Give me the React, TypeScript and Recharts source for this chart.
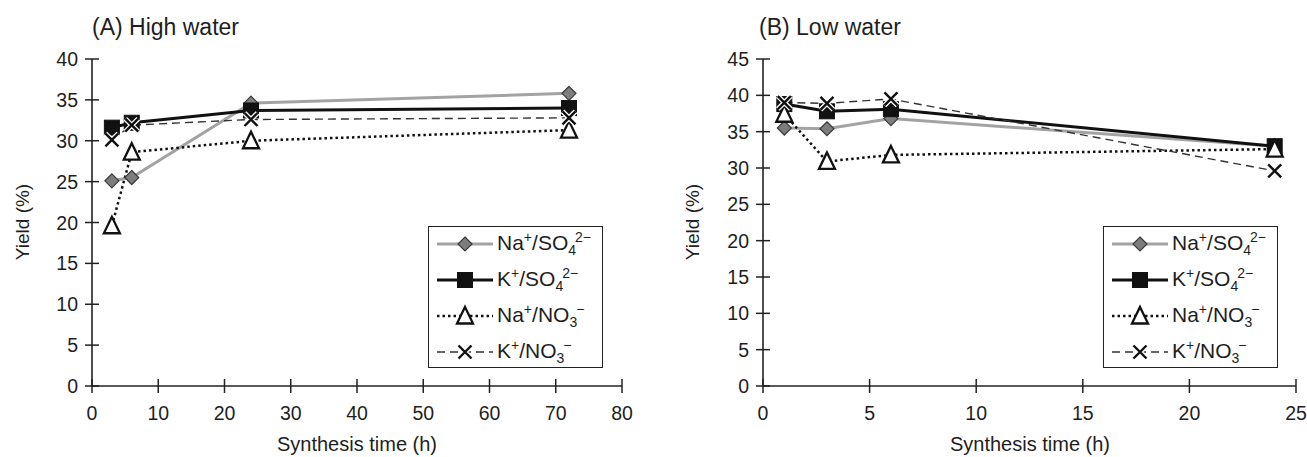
import React from 'react';
import { LineChart, Line, XAxis, YAxis } from 'recharts';

// ---- data ----
const hoursA = [3, 6, 24, 72];
const naSO4A = [25.1, 25.5, 34.6, 35.8];
const kSO4A = [31.6, 32.2, 33.7, 34.0];
const naNO3A = [19.6, 28.6, 30.0, 31.3];
const kNO3A = [30.1, 31.9, 32.6, 32.8];

const hoursB = [1, 3, 6, 24];
const naSO4B = [35.5, 35.4, 36.8, 33.0];
const kSO4B = [38.8, 37.8, 38.1, 33.0];
const naNO3B = [37.4, 30.9, 31.8, 32.6];
const kNO3B = [39.0, 38.9, 39.5, 29.6];

const xTicksA = [0, 10, 20, 30, 40, 50, 60, 70, 80];
const yTicksA = [0, 5, 10, 15, 20, 25, 30, 35, 40];
const xTicksB = [0, 5, 10, 15, 20, 25];
const yTicksB = [0, 5, 10, 15, 20, 25, 30, 35, 40, 45];

const titleA = '(A) High water';
const titleB = '(B) Low water';
const xLabel = 'Synthesis time (h)';
const yLabel = 'Yield (%)';

const buildRows = (h: number[], a: number[], b: number[], c: number[], d: number[]) =>
  h.map((x, i) => ({ h: x, naSO4: a[i], kSO4: b[i], naNO3: c[i], kNO3: d[i] }));

const dataA = buildRows(hoursA, naSO4A, kSO4A, naNO3A, kNO3A);
const dataB = buildRows(hoursB, naSO4B, kSO4B, naNO3B, kNO3B);

// ---- styles ----
const FONT = '"Liberation Sans", Arial, sans-serif';
const AX = '#222';
const TXT = '#1e1e1e';

type SeriesStyle = { key: string; stroke: string; width: number; dash?: string; marker: string };
const SERIES: SeriesStyle[] = [
  { key: 'naSO4', stroke: '#a3a3a3', width: 3, marker: 'diamond' },
  { key: 'kSO4', stroke: '#111', width: 3, marker: 'square' },
  { key: 'naNO3', stroke: '#111', width: 2.5, dash: '2.5 3', marker: 'triangle' },
  { key: 'kNO3', stroke: '#333', width: 1.4, dash: '8 5', marker: 'cross' },
];

function Marker({ kind, cx, cy }: { kind: string; cx: number; cy: number }) {
  if (kind === 'diamond') {
    const r = 7;
    return (
      <path
        d={`M${cx},${cy - r}L${cx + r},${cy}L${cx},${cy + r}L${cx - r},${cy}Z`}
        fill="#7d7d7d"
        stroke="#3a3a3a"
        strokeWidth={1.2}
      />
    );
  }
  if (kind === 'square') {
    const s = 7.5;
    return <rect x={cx - s} y={cy - s} width={2 * s} height={2 * s} fill="#111" stroke="#111" strokeWidth={1} />;
  }
  if (kind === 'triangle') {
    const r = 8;
    return (
      <path
        d={`M${cx},${cy - r - 1}L${cx + r},${cy + r - 0.5}L${cx - r},${cy + r - 0.5}Z`}
        fill="#fff"
        stroke="#111"
        strokeWidth={2.3}
        strokeLinejoin="miter"
      />
    );
  }
  const r = 6.5;
  const d = `M${cx - r},${cy - r}L${cx + r},${cy + r}M${cx + r},${cy - r}L${cx - r},${cy + r}`;
  return (
    <g>
      <path d={d} stroke="#fff" strokeWidth={5} />
      <path d={d} stroke="#111" strokeWidth={2.4} />
    </g>
  );
}

const makeDot = (kind: string) => (props: any) => {
  const { cx, cy, index } = props;
  if (cx == null || cy == null) return <g key={index} />;
  return (
    <g key={`${kind}-${index}`}>
      <Marker kind={kind} cx={cx} cy={cy} />
    </g>
  );
};

const YTick = (props: any) => {
  const { x, y, payload } = props;
  return (
    <g>
      <line x1={x - 7} x2={x + 7} y1={y} y2={y} stroke={AX} strokeWidth={1.5} />
      <text x={x - 14} y={y} dy="0.36em" textAnchor="end" fontSize={19.5} fontFamily={FONT} fill={TXT}>
        {payload.value}
      </text>
    </g>
  );
};

const XTick = (props: any) => {
  const { x, y, payload } = props;
  return (
    <g>
      <line x1={x} x2={x} y1={y - 7} y2={y + 7} stroke={AX} strokeWidth={1.5} />
      <text x={x} y={y + 34} textAnchor="middle" fontSize={19.5} fontFamily={FONT} fill={TXT}>
        {payload.value}
      </text>
    </g>
  );
};

function Panel({
  data,
  xTicks,
  yTicks,
  width,
  yAxisWidth,
  right,
}: {
  data: any[];
  xTicks: number[];
  yTicks: number[];
  width: number;
  yAxisWidth: number;
  right: number;
}) {
  const xDom: [number, number] = [xTicks[0], xTicks[xTicks.length - 1]];
  const yDom: [number, number] = [yTicks[0], yTicks[yTicks.length - 1]];
  return (
    <LineChart width={width} height={457} data={data} margin={{ top: 59, right, bottom: 0, left: 0 }}>
      <XAxis
        dataKey="h"
        type="number"
        domain={xDom}
        ticks={xTicks}
        interval={0}
        tickSize={0}
        tickMargin={0}
        tick={<XTick />}
        tickLine={false}
        axisLine={{ stroke: AX, strokeWidth: 1.6 }}
        height={71}
        allowDataOverflow
      />
      <XAxis
        xAxisId="top"
        orientation="top"
        type="number"
        dataKey="h"
        domain={xDom}
        tick={false}
        tickLine={false}
        height={0}
        axisLine={{ stroke: AX, strokeWidth: 1.6 }}
      />
      <YAxis
        type="number"
        domain={yDom}
        ticks={yTicks}
        interval={0}
        tickSize={0}
        tickMargin={0}
        tick={<YTick />}
        tickLine={false}
        axisLine={{ stroke: AX, strokeWidth: 1.6 }}
        width={yAxisWidth}
        allowDataOverflow
      />
      <YAxis
        yAxisId="right"
        orientation="right"
        type="number"
        domain={yDom}
        tick={false}
        tickLine={false}
        width={0}
        axisLine={{ stroke: AX, strokeWidth: 1.6 }}
      />
      {SERIES.map((s) => (
        <Line
          key={s.key}
          dataKey={s.key}
          type="linear"
          stroke={s.stroke}
          strokeWidth={s.width}
          strokeDasharray={s.dash}
          dot={makeDot(s.marker)}
          activeDot={false}
          isAnimationActive={false}
        />
      ))}
    </LineChart>
  );
}

const SUP = { fontSize: 14 };
const legendLabels: React.ReactNode[] = [
  <span>Na<sup style={SUP}>+</sup>/SO<sub style={SUP}>4</sub><sup style={{ ...SUP, marginLeft: -1 }}>2−</sup></span>,
  <span>K<sup style={SUP}>+</sup>/SO<sub style={SUP}>4</sub><sup style={{ ...SUP, marginLeft: -1 }}>2−</sup></span>,
  <span>Na<sup style={SUP}>+</sup>/NO<sub style={SUP}>3</sub><sup style={{ ...SUP, marginLeft: -1 }}>−</sup></span>,
  <span>K<sup style={SUP}>+</sup>/NO<sub style={SUP}>3</sub><sup style={{ ...SUP, marginLeft: -1 }}>−</sup></span>,
];

function LegendBox({ left, top }: { left: number; top: number }) {
  return (
    <div
      style={{
        position: 'absolute',
        left,
        top,
        width: 175,
        height: 142,
        border: `1.5px solid ${AX}`,
        background: '#fff',
        boxSizing: 'border-box',
        fontFamily: FONT,
        color: TXT,
      }}
    >
      {SERIES.map((s, i) => (
        <div
          key={s.key}
          style={{ position: 'absolute', left: 0, top: 17 + i * 36 - 15, height: 30, display: 'flex', alignItems: 'center' }}
        >
          <svg width={68} height={30} style={{ display: 'block' }}>
            <line x1={8} x2={64} y1={15} y2={15} stroke={s.stroke} strokeWidth={s.width} strokeDasharray={s.dash} />
            <Marker kind={s.marker} cx={36} cy={15} />
          </svg>
          <span style={{ fontSize: 21, lineHeight: '30px', whiteSpace: 'nowrap' }}>{legendLabels[i]}</span>
        </div>
      ))}
    </div>
  );
}

export default function App() {
  return (
    <div style={{ position: 'absolute', left: 0, top: 0, width: 1307, height: 457, background: '#fff', overflow: 'hidden' }}>
      <div style={{ position: 'absolute', left: 0, top: 0 }}>
        <Panel data={dataA} xTicks={xTicksA} yTicks={yTicksA} width={650} yAxisWidth={92} right={28} />
      </div>
      <div style={{ position: 'absolute', left: 660, top: 0 }}>
        <Panel data={dataB} xTicks={xTicksB} yTicks={yTicksB} width={647} yAxisWidth={103} right={11} />
      </div>
      <svg width={1307} height={457} style={{ position: 'absolute', left: 0, top: 0, pointerEvents: 'none' }}>
        <g fontFamily={FONT} fill={TXT}>
          <text x={92} y={35} fontSize={23}>{titleA}</text>
          <text x={759} y={35} fontSize={23}>{titleB}</text>
          <text x={357} y={451} fontSize={20} textAnchor="middle">{xLabel}</text>
          <text x={1030} y={451} fontSize={20} textAnchor="middle">{xLabel}</text>
          <text transform="translate(29,222) rotate(-90)" fontSize={19} textAnchor="middle">{yLabel}</text>
          <text transform="translate(699,222) rotate(-90)" fontSize={19} textAnchor="middle">{yLabel}</text>
        </g>
      </svg>
      <LegendBox left={428} top={226} />
      <LegendBox left={1103} top={226} />
    </div>
  );
}
